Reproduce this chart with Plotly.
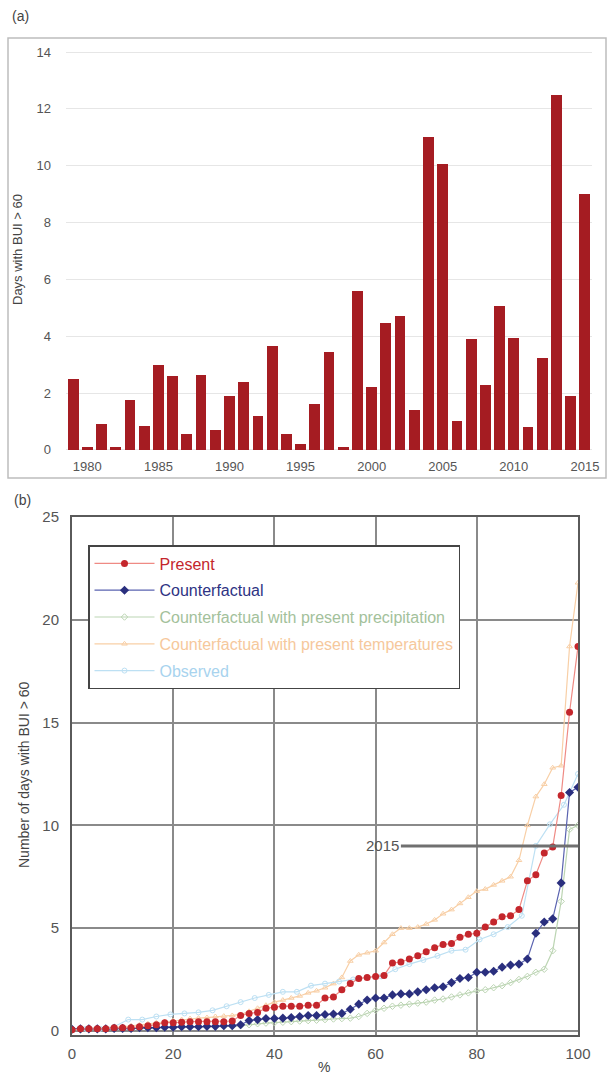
import plotly.graph_objects as go

# ---------------- Data ----------------
years = list(range(1979, 2016))
days_bui60 = [2.5, 0.1, 0.9, 0.1, 1.75, 0.85, 3.0, 2.6, 0.55, 2.65,
              0.7, 1.9, 2.4, 1.2, 3.65, 0.55, 0.2, 1.6, 3.45, 0.1,
              5.6, 2.2, 4.45, 4.7, 1.4, 11.0, 10.05, 1.0, 3.9, 2.3,
              5.05, 3.95, 0.8, 3.25, 12.5, 1.9, 9.0]

pct = [0, 1.67, 3.33, 5, 6.67, 8.33, 10, 11.67, 13.33, 15,
       16.67, 18.33, 20, 21.67, 23.33, 25, 26.67, 28.33, 30, 31.67,
       33.33, 35, 36.67, 38.33, 40, 41.67, 43.33, 45, 46.67, 48.33,
       50, 51.67, 53.33, 55, 56.67, 58.33, 60, 61.67, 63.33, 65,
       66.67, 68.33, 70, 71.67, 73.33, 75, 76.67, 78.33, 80, 81.67,
       83.33, 85, 86.67, 88.33, 90, 91.67, 93.33, 95, 96.67, 98.33, 100]

present = [0.05, 0.1, 0.1, 0.1, 0.1, 0.15, 0.15, 0.15, 0.2, 0.25,
           0.3, 0.4, 0.4, 0.42, 0.45, 0.45, 0.45, 0.45, 0.45, 0.48,
           0.75, 0.85, 0.9, 1.1, 1.15, 1.2, 1.2, 1.2, 1.25, 1.25,
           1.6, 1.65, 2.0, 2.3, 2.55, 2.6, 2.65, 2.7, 3.3, 3.35,
           3.5, 3.65, 3.85, 4.05, 4.2, 4.25, 4.55, 4.7, 4.75, 5.05,
           5.3, 5.55, 5.6, 5.9, 7.3, 7.6, 8.65, 8.95, 11.45, 15.5, 18.7]

counterfactual = [0.08, 0.1, 0.1, 0.1, 0.1, 0.12, 0.12, 0.12, 0.15, 0.15,
                  0.15, 0.18, 0.18, 0.2, 0.2, 0.2, 0.22, 0.22, 0.25, 0.25,
                  0.3, 0.5, 0.55, 0.6, 0.6, 0.62, 0.65, 0.7, 0.75, 0.75,
                  0.8, 0.82, 0.85, 1.05, 1.3, 1.5, 1.6, 1.6, 1.75, 1.8,
                  1.8, 1.9, 2.0, 2.1, 2.15, 2.35, 2.55, 2.6, 2.85, 2.85,
                  2.9, 3.1, 3.2, 3.25, 3.5, 4.75, 5.3, 5.45, 7.2, 11.6, 11.85]

cf_present_precip = [0.05, 0.05, 0.08, 0.08, 0.1, 0.1, 0.1, 0.12, 0.12, 0.12,
                     0.15, 0.15, 0.15, 0.18, 0.18, 0.2, 0.2, 0.2, 0.22, 0.22,
                     0.25, 0.3, 0.35, 0.38, 0.4, 0.42, 0.45, 0.48, 0.5, 0.52,
                     0.55, 0.58, 0.6, 0.62, 0.7, 0.85, 1.0, 1.1, 1.2, 1.25,
                     1.3, 1.35, 1.4, 1.5, 1.55, 1.65, 1.75, 1.85, 1.95, 2.0,
                     2.1, 2.2, 2.35, 2.5, 2.65, 2.85, 3.0, 3.9, 6.3, 9.8, 10.0]

cf_present_temp = [0.1, 0.1, 0.12, 0.15, 0.15, 0.18, 0.2, 0.25, 0.3, 0.35,
                   0.4, 0.45, 0.5, 0.55, 0.6, 0.62, 0.65, 0.7, 0.72, 0.75,
                   0.8, 0.95, 1.1, 1.25, 1.4, 1.5, 1.6, 1.7, 1.85, 1.95,
                   2.1, 2.3, 2.6, 3.4, 3.7, 3.8, 3.9, 4.3, 4.7, 5.0,
                   5.0, 5.05, 5.2, 5.4, 5.7, 5.9, 6.2, 6.5, 6.8, 6.9,
                   7.1, 7.3, 7.5, 8.3, 10.0, 11.4, 12.0, 12.8, 12.9, 18.7, 21.8]

# Observed: the yearly values of panel (a), sorted
observed = sorted(days_bui60)
obs_pct = [100 * i / (len(observed) - 1) for i in range(len(observed))]

x_ticks_a = [1980, 1985, 1990, 1995, 2000, 2005, 2010, 2015]
y_ticks_a = [0, 2, 4, 6, 8, 10, 12, 14]
x_ticks_b = [0, 20, 40, 60, 80, 100]
y_ticks_b = [0, 5, 10, 15, 20, 25]

# ---------------- Figure ----------------
W, H = 608, 1078
FONT = "Arial, Liberation Sans, sans-serif"
TICK_GREY = "#555555"

fig = go.Figure()

fig.add_trace(go.Bar(x=years, y=days_bui60, marker=dict(color="#a51c22", line=dict(width=0)),
                     width=0.76, showlegend=False, xaxis="x", yaxis="y"))

def lgname(txt, col):
    return f'<span style="color:{col}">{txt}</span>'

fig.add_trace(go.Scatter(x=pct, y=cf_present_precip, mode="lines+markers", xaxis="x2", yaxis="y2",
                         name=lgname("Counterfactual with present precipitation", "#a3c19b"),
                         legendgroup="g3", legendrank=3,
                         line=dict(color="#bcd5b3", width=1.2),
                         marker=dict(symbol="diamond-open", size=5, color="#bcd5b3", line=dict(width=1))))
fig.add_trace(go.Scatter(x=pct, y=cf_present_temp, mode="lines+markers", xaxis="x2", yaxis="y2",
                         name=lgname("Counterfactual with present temperatures", "#f6c89c"),
                         legendgroup="g4", legendrank=4,
                         line=dict(color="#f8cfa6", width=1.2),
                         marker=dict(symbol="triangle-up-open", size=5, color="#f8cfa6", line=dict(width=1))))
fig.add_trace(go.Scatter(x=obs_pct, y=observed, mode="lines+markers", xaxis="x2", yaxis="y2",
                         name=lgname("Observed", "#a8d3ee"),
                         legendgroup="g5", legendrank=5,
                         line=dict(color="#bde0f3", width=1.2),
                         marker=dict(symbol="circle-open", size=5, color="#bde0f3", line=dict(width=1))))
fig.add_trace(go.Scatter(x=pct, y=counterfactual, mode="lines+markers", xaxis="x2", yaxis="y2",
                         name=lgname("Counterfactual", "#2e3383"),
                         legendgroup="g2", legendrank=2,
                         line=dict(color="#5a63b0", width=1.2),
                         marker=dict(symbol="diamond", size=7, color="#2a2f7e")))
fig.add_trace(go.Scatter(x=pct, y=present, mode="lines+markers", xaxis="x2", yaxis="y2",
                         name=lgname("Present", "#c4262c"),
                         legendgroup="g1", legendrank=1,
                         line=dict(color="#ef8a84", width=1.2),
                         marker=dict(symbol="circle", size=7, color="#c4262c")))

def px_dom_x(a, b):
    return [a / W, b / W]

def px_dom_y(top, bottom):
    return [1 - bottom / H, 1 - top / H]

fig.update_layout(
    width=W, height=H,
    margin=dict(l=0, r=0, t=0, b=0),
    paper_bgcolor="white", plot_bgcolor="white",
    font=dict(family=FONT, size=13, color=TICK_GREY),
    bargap=0,
    xaxis=dict(domain=px_dom_x(66, 592), range=[1978.5, 2015.5], anchor="y", automargin=False,
               tickvals=x_ticks_a, showgrid=False, zeroline=False, showline=False,
               ticks="", ticklabelstandoff=2,
               tickfont=dict(size=13, color=TICK_GREY)),
    yaxis=dict(domain=px_dom_y(45, 455), range=[-0.18, 14.25], anchor="x", automargin=False,
               tickvals=y_ticks_a, showgrid=True, gridcolor="#e6e6e6", gridwidth=1,
               zeroline=False, showline=False, ticks="", ticklabelstandoff=14,
               tickfont=dict(size=13, color=TICK_GREY)),
    xaxis2=dict(domain=px_dom_x(72, 578), range=[0, 100], anchor="y2", automargin=False,
                tickvals=x_ticks_b, showgrid=True, gridcolor="#8a8a8a", gridwidth=2,
                zeroline=False, showline=True, linecolor="#5a5a5a", linewidth=2, mirror=True,
                ticks="", ticklabelstandoff=4,
                tickfont=dict(size=15, color=TICK_GREY)),
    yaxis2=dict(domain=px_dom_y(517, 1035), range=[-0.2, 25], anchor="x2", automargin=False,
                tickvals=y_ticks_b, showgrid=True, gridcolor="#8a8a8a", gridwidth=2,
                zeroline=False, showline=True, linecolor="#5a5a5a", linewidth=2, mirror=True,
                ticks="", ticklabelstandoff=8,
                tickfont=dict(size=15, color=TICK_GREY)),
    legend=dict(x=88 / W, y=1 - 545 / H, xanchor="left", yanchor="top",
                bgcolor="white", bordercolor="#444444", borderwidth=1.5,
                font=dict(family=FONT, size=16), itemwidth=60,
                traceorder="grouped", tracegroupgap=3),
    shapes=[
        dict(type="rect", xref="paper", yref="paper", x0=8 / W, x1=606 / W,
             y0=1 - 478 / H, y1=1 - 38 / H, line=dict(color="#bdbdbd", width=1.5),
             fillcolor="rgba(0,0,0,0)", layer="below"),
        dict(type="line", xref="x2", yref="y2", x0=65, x1=100,
             y0=days_bui60[-1], y1=days_bui60[-1], line=dict(color="#707070", width=3)),
    ],
    annotations=[
        dict(text="(a)", xref="paper", yref="paper", x=10 / W, y=1 - 16 / H,
             xanchor="left", yanchor="middle", showarrow=False,
             font=dict(size=14, color="#444444")),
        dict(text="(b)", xref="paper", yref="paper", x=12 / W, y=1 - 500 / H,
             xanchor="left", yanchor="middle", showarrow=False,
             font=dict(size=14, color="#444444")),
        dict(text="Days with BUI > 60", xref="paper", yref="paper", x=18 / W, y=1 - 250 / H,
             xanchor="center", yanchor="middle", textangle=-90, showarrow=False,
             font=dict(size=13, color="#444444")),
        dict(text="Number of days with BUI > 60", xref="paper", yref="paper", x=24 / W, y=1 - 775 / H,
             xanchor="center", yanchor="middle", textangle=-90, showarrow=False,
             font=dict(size=14, color="#444444")),
        dict(text="%", xref="paper", yref="paper", x=324 / W, y=1 - 1067 / H,
             xanchor="center", yanchor="middle", showarrow=False,
             font=dict(size=14, color="#444444")),
        dict(text="2015", xref="x2", yref="y2", x=65, y=days_bui60[-1],
             xanchor="right", yanchor="middle", showarrow=False,
             font=dict(size=15, color="#555555")),
    ],
)

fig.write_html("out.html", config={"displayModeBar": False},
               post_script="document.body.style.margin='0';document.body.style.overflow='hidden';")
